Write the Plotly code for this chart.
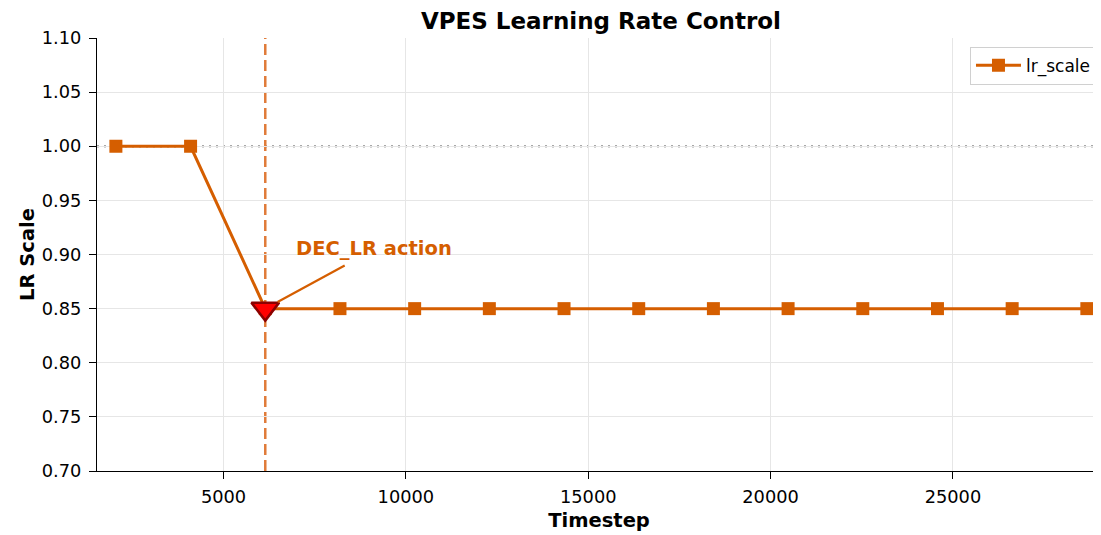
import plotly.graph_objects as go

timesteps = [2048, 4096, 6144, 8192, 10240, 12288, 14336, 16384, 18432, 20480, 22528, 24576, 26624, 28672]
lr_scale = [1.00, 1.00, 0.85, 0.85, 0.85, 0.85, 0.85, 0.85, 0.85, 0.85, 0.85, 0.85, 0.85, 0.85]
action_step = [6144]
action_value = [0.85]
action_label = "DEC_LR action"
baseline = 1.0

COLOR = "#d55e00"
FONT = "DejaVu Sans, sans-serif"

fig = go.Figure()
fig.add_trace(go.Scatter(
    x=timesteps, y=lr_scale, mode="lines+markers", name="lr_scale",
    line=dict(color=COLOR, width=3),
    marker=dict(symbol="square", size=13, color=COLOR),
))
fig.add_trace(go.Scatter(
    x=action_step, y=action_value, mode="markers", showlegend=False,
    marker=dict(symbol="triangle-down", size=24, color="#ff0000",
                line=dict(color="#8b0000", width=2.5)),
))

# reference lines
fig.add_shape(type="line", xref="paper", yref="y", x0=0, x1=1, y0=baseline, y1=baseline,
              line=dict(color="#a8a8a8", width=2.5, dash="2px,5px"), layer="below")
fig.add_shape(type="line", xref="x", yref="paper", x0=action_step[0], x1=action_step[0], y0=0, y1=1,
              line=dict(color="#e07b39", width=2.5, dash="11px,5px"), layer="below")

# annotation arrow and text
fig.add_annotation(x=action_step[0], y=action_value[0], xref="x", yref="y",
                   ax=8363, ay=0.8906, axref="x", ayref="y", text="",
                   showarrow=True, arrowhead=0, arrowwidth=2.2, arrowcolor=COLOR, standoff=14)
fig.add_annotation(x=6944, y=0.906, xref="x", yref="y", text="<b>" + action_label + "</b>",
                   showarrow=False, xanchor="left", yanchor="middle",
                   font=dict(family=FONT, size=19.5, color=COLOR))

fig.update_layout(
    width=1093, height=527,
    margin=dict(l=89, r=0, t=30, b=64),
    paper_bgcolor="white", plot_bgcolor="white",
    font=dict(family=FONT, size=17.8, color="black"),
    title=dict(text="<b>VPES Learning Rate Control</b>", x=0.5425, xanchor="center",
               y=0.9745, yanchor="middle", font=dict(family=FONT, size=23, color="black")),
    legend=dict(x=0.996, y=0.98, xanchor="right", yanchor="top",
                bordercolor="#d0d0d0", borderwidth=1, bgcolor="rgba(255,255,255,0.9)",
                font=dict(family=FONT, size=17), itemwidth=45, tracegroupgap=0),
)
fig.update_xaxes(
    range=[1530, 29060], tickvals=[5000, 10000, 15000, 20000, 25000],
    ticktext=["5000", "10000", "15000", "20000", "25000"],
    showgrid=True, gridcolor="#e6e6e6", gridwidth=1,
    showline=True, linecolor="black", linewidth=1.2,
    ticks="outside", ticklen=7, tickcolor="black", zeroline=False,
    tickfont=dict(size=17.8), ticklabelstandoff=3,
    title=dict(text="<b>Timestep</b>", font=dict(family=FONT, size=19.5), standoff=6),
)
fig.update_yaxes(
    range=[0.70, 1.10], tickvals=[0.70, 0.75, 0.80, 0.85, 0.90, 0.95, 1.00, 1.05, 1.10],
    ticktext=["0.70", "0.75", "0.80", "0.85", "0.90", "0.95", "1.00", "1.05", "1.10"],
    showgrid=True, gridcolor="#e6e6e6", gridwidth=1,
    showline=True, linecolor="black", linewidth=1.2,
    ticks="outside", ticklen=7, tickcolor="black", zeroline=False,
    tickfont=dict(size=17.8), ticklabelstandoff=4,
    title=dict(text="<b>LR Scale</b>", font=dict(family=FONT, size=19.5), standoff=1),
)

fig.write_html("out.html")
